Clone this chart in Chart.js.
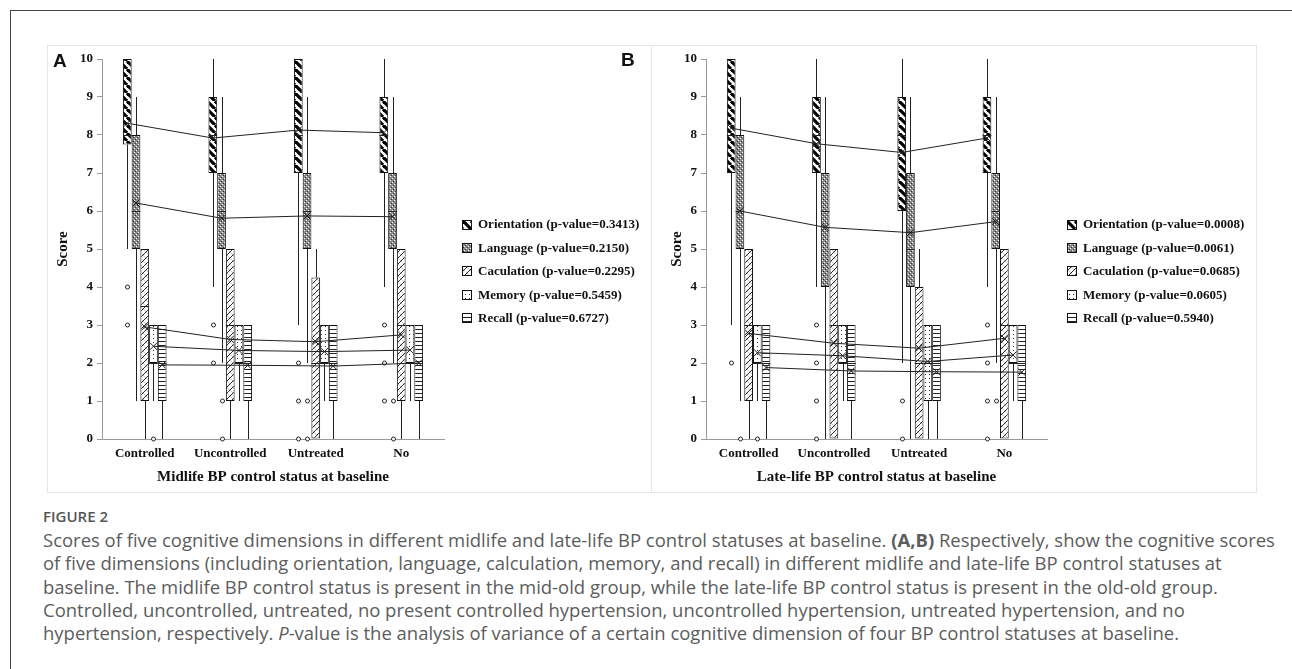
<!DOCTYPE html>
<html><head><meta charset="utf-8">
<script src="https://cdn.jsdelivr.net/npm/chart.js@4.4.1/dist/chart.umd.min.js"></script>
<style>
body{margin:0;width:1292px;height:669px;background:#fff;position:relative;overflow:hidden;font-family:"Open Sans",sans-serif;}
#frameTop{position:absolute;left:10px;top:10px;width:1290px;height:0;border-top:1.5px solid #444;}
#frameLeft{position:absolute;left:10px;top:10px;width:0;height:670px;border-left:1.5px solid #444;}
.pborder{position:absolute;top:45px;height:448px;border:1px solid #e6e6e6;box-sizing:border-box;}
canvas{position:absolute;top:45px;}
.plabel{position:absolute;font-family:"Liberation Sans",Arial,sans-serif;font-weight:bold;font-size:19px;color:#111;}
#figlabel{position:absolute;left:43px;top:506px;font-size:15px;font-weight:600;color:#555;}
.cap{position:absolute;left:43px;white-space:nowrap;color:#5c5c5c;font-size:16.5px;}
</style>
</head><body>
<div id="frameTop"></div><div id="frameLeft"></div>
<div class="pborder" style="left:47px;width:605px;"></div>
<div class="pborder" style="left:651px;width:606px;"></div>
<canvas id="cA" width="604" height="448" style="left:47px;"></canvas>
<canvas id="cB" width="605" height="448" style="left:651px;"></canvas>
<div class="plabel" style="left:53px;top:50px;">A</div>
<div class="plabel" style="left:621px;top:49px;">B</div>
<div id="figlabel">FIGURE 2</div>
<div class="cap" id="l1">Scores of five cognitive dimensions in different midlife and late-life BP control statuses at baseline. <b>(A,B)</b> Respectively, show the cognitive scores</div>
<div class="cap" id="l2">of five dimensions (including orientation, language, calculation, memory, and recall) in different midlife and late-life BP control statuses at</div>
<div class="cap" id="l3">baseline. The midlife BP control status is present in the mid-old group, while the late-life BP control status is present in the old-old group.</div>
<div class="cap" id="l4">Controlled, uncontrolled, untreated, no present controlled hypertension, uncontrolled hypertension, untreated hypertension, and no</div>
<div class="cap" id="l5">hypertension, respectively. <i>P</i>-value is the analysis of variance of a certain cognitive dimension of four BP control statuses at baseline.</div>
<script>
// ---------------- DATA ----------------
const categories = ['Controlled', 'Uncontrolled', 'Untreated', 'No'];
const dimensions = ['Orientation', 'Language', 'Caculation', 'Memory', 'Recall'];
const pValuesA = ['0.3413', '0.2150', '0.2295', '0.5459', '0.6727'];
const pValuesB = ['0.0008', '0.0061', '0.0685', '0.0605', '0.5940'];
const xTitleA = 'Midlife BP control status at baseline';
const xTitleB = 'Late-life BP control status at baseline';

// Panel A  (rows = dimensions, columns = categories)
const minA    = [[5, 4, 3, 4], [1, 2, 2, 2], [0, 0, 0, 0], [1, 1, 1, 1], [0, 0, 0, 0]];
const q1A     = [[7.75, 7, 7, 7], [5, 5, 5, 5], [1, 1, 0, 1], [2, 2, 2, 2], [1, 1, 1, 1]];
const medianA = [[8, 8, 8, 8], [6, 6, 6, 6], [3.5, 3, 2, 3], [2, 2, 2, 2], [2, 2, 2, 2]];
const q3A     = [[10, 9, 10, 9], [8, 7, 7, 7], [5, 5, 4.25, 5], [3, 3, 3, 3], [3, 3, 3, 3]];
const maxA    = [[10, 10, 10, 10], [9, 9, 9, 9], [5, 5, 5, 5], [3, 3, 3, 3], [3, 3, 3, 3]];
const meanA   = [[8.31, 7.92, 8.13, 8.06], [6.21, 5.81, 5.87, 5.85], [2.95, 2.62, 2.56, 2.74], [2.44, 2.33, 2.30, 2.34], [1.95, 1.94, 1.92, 2.00]];
const outliersA = [[[4, 3], [3, 2], [2, 1, 0], [3, 2, 1]], [[], [1, 0], [1, 0], [1, 0]], [[], [], [], []], [[0], [], [], []], [[], [], [], []]];

// Panel B
const minB    = [[3, 4, 2, 4], [1, 0, 0, 2], [0, 0, 0, 0], [1, 1, 0, 1], [0, 0, 0, 0]];
const q1B     = [[7, 7, 6, 7], [5, 4, 4, 5], [1, 0, 0, 0], [2, 2, 1, 2], [1, 1, 1, 1]];
const medianB = [[8, 8, 8, 8], [6, 6, 5, 6], [3, 3, 2, 3], [2, 2, 2, 2], [2, 2, 2, 2]];
const q3B     = [[10, 9, 9, 9], [8, 7, 7, 7], [5, 5, 4, 5], [3, 3, 3, 3], [3, 3, 3, 3]];
const maxB    = [[10, 10, 10, 10], [9, 9, 9, 9], [5, 5, 5, 5], [3, 3, 3, 3], [3, 3, 3, 3]];
const meanB   = [[8.18, 7.77, 7.54, 7.92], [6.00, 5.57, 5.43, 5.72], [2.78, 2.52, 2.39, 2.65], [2.27, 2.19, 2.04, 2.21], [1.88, 1.79, 1.77, 1.76]];
const outliersB = [[[2], [3, 2, 1, 0], [1, 0], [3, 2, 1, 0]], [[0], [], [], [1]], [[], [], [], []], [[0], [], [], []], [[], [], [], []]];

// ---------------- PATTERNS ----------------
function tile(w, h, draw) {
  const c = document.createElement('canvas'); c.width = w; c.height = h;
  const g = c.getContext('2d'); g.fillStyle = '#fff'; g.fillRect(0, 0, w, h); draw(g, w, h);
  return document.createElement('canvas').getContext('2d').createPattern(c, 'repeat');
}
const patterns = [
  tile(8, 8, (g, w) => { g.strokeStyle = '#000'; g.lineWidth = 3.2; for (let k = -1; k <= 1; k++) { g.beginPath(); g.moveTo(k * w, 0); g.lineTo(k * w + w, w); g.stroke(); } }),
  tile(4, 4, (g) => { g.fillStyle = '#8a8a8a'; g.fillRect(0, 0, 4, 4); g.fillStyle = '#fff'; g.fillRect(1, 1, 1, 1); g.fillRect(3, 3, 1, 1); g.fillStyle = '#333'; g.fillRect(0, 2, 1, 1); g.fillRect(2, 0, 1, 1); }),
  tile(6, 6, (g, w) => { g.lineWidth = 0.9; g.strokeStyle = '#111'; for (let k = -1; k <= 1; k++) { g.beginPath(); g.moveTo(k * w, w); g.lineTo(k * w + w, 0); g.stroke(); } g.strokeStyle = '#aaa'; g.lineWidth = 0.6; for (let k = -1; k <= 1; k++) { g.beginPath(); g.moveTo(k * w, 0); g.lineTo(k * w + w, w); g.stroke(); } }),
  tile(4, 4, (g) => { g.fillStyle = '#333'; g.fillRect(2, 1, 1, 1); }),
  tile(4, 4, (g) => { g.fillStyle = '#222'; g.fillRect(0, 0, 4, 1); })
];

// ---------------- PLUGINS ----------------
const boxExtras = {
  id: 'boxExtras',
  afterDatasetsDraw(chart, args, o) {
    const ctx = chart.ctx, y = chart.scales.y;
    ctx.save(); ctx.lineWidth = 1; ctx.strokeStyle = '#222';
    dimensions.forEach((d, i) => {
      const meta = chart.getDatasetMeta(i);
      meta.data.forEach((el, j) => {
        const x = Math.round(el.x) + 0.5, w = el.width;
        ctx.beginPath();
        ctx.moveTo(x, y.getPixelForValue(o.q3[i][j])); ctx.lineTo(x, y.getPixelForValue(o.max[i][j]));
        ctx.moveTo(x, y.getPixelForValue(o.q1[i][j])); ctx.lineTo(x, y.getPixelForValue(o.min[i][j]));
        const ym = Math.round(y.getPixelForValue(o.median[i][j])) + 0.5;
        ctx.moveTo(el.x - w / 2, ym); ctx.lineTo(el.x + w / 2, ym);
        ctx.stroke();
        o.outliers[i][j].forEach(v => {
          ctx.beginPath(); ctx.arc(x, y.getPixelForValue(v), 2, 0, 2 * Math.PI);
          ctx.fillStyle = '#fff'; ctx.fill(); ctx.stroke();
        });
      });
      ctx.beginPath();
      meta.data.forEach((el, j) => { const yy = y.getPixelForValue(o.mean[i][j]); if (j) ctx.lineTo(el.x, yy); else ctx.moveTo(el.x, yy); });
      ctx.stroke();
      meta.data.forEach((el, j) => {
        const yy = y.getPixelForValue(o.mean[i][j]);
        ctx.beginPath(); ctx.moveTo(el.x - 3.5, yy - 3.5); ctx.lineTo(el.x + 3.5, yy + 3.5); ctx.moveTo(el.x + 3.5, yy - 3.5); ctx.lineTo(el.x - 3.5, yy + 3.5); ctx.stroke();
      });
    });
    ctx.restore();
  }
};
const patLegend = {
  id: 'patLegend',
  afterDraw(chart, args, o) {
    const ctx = chart.ctx, x0 = Math.round(chart.chartArea.right + o.dx);
    ctx.save();
    ctx.font = 'bold 13px "Liberation Serif", "Times New Roman", serif';
    ctx.textBaseline = 'middle';
    dimensions.forEach((d, i) => {
      const yc = o.y0 + i * o.dy, yt = Math.round(yc - 4.5);
      ctx.fillStyle = patterns[i]; ctx.fillRect(x0, yt, 9, 9);
      ctx.strokeStyle = '#111'; ctx.lineWidth = 1; ctx.strokeRect(x0 + 0.5, yt + 0.5, 9, 9);
      ctx.fillStyle = '#111'; ctx.fillText(d + ' (p-value=' + o.p[i] + ')', x0 + 16, yc + 1);
    });
    ctx.restore();
  }
};

Chart.defaults.font.family = '"Liberation Serif", "Times New Roman", serif';
Chart.defaults.font.weight = 'bold';
Chart.defaults.color = '#111';

function makeChart(id, s, p, xTitle, padL, padR, legDx) {
  const datasets = dimensions.map((d, i) => ({
    label: d,
    data: categories.map((c, j) => [s.q1[i][j], s.q3[i][j]]),
    backgroundColor: patterns[i],
    borderColor: '#111', borderWidth: 1, borderSkipped: false,
    categoryPercentage: 0.51, barPercentage: 1.0
  }));
  return new Chart(document.getElementById(id), {
    type: 'bar',
    data: { labels: categories, datasets },
    options: {
      responsive: false, animation: false, devicePixelRatio: 1,
      layout: { padding: { left: padL, right: padR, top: 14, bottom: 0 } },
      plugins: { legend: { display: false }, tooltip: { enabled: false },
        boxExtras: s, patLegend: { dx: legDx, y0: 179, dy: 23.4, p } },
      scales: {
        x: {
          grid: { display: true, drawOnChartArea: false, drawTicks: false },
          border: { display: true, color: '#9a9a9a', width: 1 },
          ticks: { font: { size: 13, weight: 'bold' }, padding: 7, maxRotation: 0, autoSkip: false },
          title: { display: true, text: xTitle, font: { size: 15, weight: 'bold' }, padding: { top: 4, bottom: 7 } },
          afterFit: sc => { sc.height = 54; }
        },
        y: {
          min: 0, max: 10,
          grid: { display: true, drawOnChartArea: false, drawTicks: true, tickLength: 5, color: '#9a9a9a' },
          border: { display: true, color: '#9a9a9a', width: 1 },
          ticks: { stepSize: 1, font: { size: 13, weight: 'bold' }, padding: 4 },
          title: { display: true, text: 'Score', font: { size: 15, weight: 'bold' }, padding: { top: 0, bottom: 0 } },
          afterFit: sc => { sc.width = 55 - padL; }
        }
      }
    },
    plugins: [boxExtras, patLegend]
  });
}
makeChart('cA', { min: minA, q1: q1A, median: medianA, q3: q3A, max: maxA, mean: meanA, outliers: outliersA }, pValuesA, xTitleA, 7, 207, 18);
makeChart('cB', { min: minB, q1: q1B, median: medianB, q3: q3B, max: maxB, mean: meanB, outliers: outliersB }, pValuesB, xTitleB, 17, 209, 20);

// caption layout: fit first line to the reference width
const l1 = document.getElementById('l1');
const w1 = l1.getBoundingClientRect().width;
const fs = 16.5 * 1232 / w1;
const tops = [529, 552.3, 575.6, 598.9, 622.2];
['l1', 'l2', 'l3', 'l4', 'l5'].forEach((id, k) => { const e = document.getElementById(id); e.style.fontSize = fs + 'px'; e.style.top = tops[k] + 'px'; e.style.lineHeight = '22px'; });
</script>
</body></html>
